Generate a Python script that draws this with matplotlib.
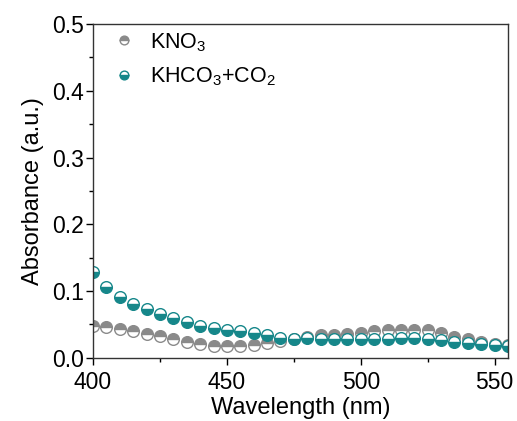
import matplotlib
matplotlib.use("Agg")
import matplotlib.pyplot as plt
from matplotlib.ticker import MultipleLocator, FormatStrFormatter
import numpy as np

plt.rcParams['font.family'] = ['Liberation Sans', 'DejaVu Sans']
plt.rcParams['mathtext.fontset'] = 'custom'
plt.rcParams['mathtext.rm'] = 'Liberation Sans'
plt.rcParams['mathtext.it'] = 'Liberation Sans'

wavelength = list(range(400, 556, 5))
kno3 = [0.048, 0.0455, 0.0435, 0.0405, 0.036, 0.033, 0.028, 0.024, 0.020, 0.017,
        0.0175, 0.0175, 0.019, 0.0215, 0.025, 0.028, 0.031, 0.034, 0.0345, 0.036,
        0.037, 0.040, 0.042, 0.042, 0.0415, 0.0415, 0.0365, 0.0315, 0.0275, 0.024,
        0.021, 0.019]
khco3 = [0.128, 0.106, 0.0915, 0.081, 0.073, 0.066, 0.060, 0.053, 0.047, 0.0445,
         0.042, 0.0405, 0.0375, 0.034, 0.029, 0.0275, 0.0295, 0.0285, 0.0285, 0.0285,
         0.0285, 0.0285, 0.0285, 0.029, 0.029, 0.0275, 0.0265, 0.024, 0.0225, 0.0205,
         0.019, 0.0175]
labels = ['KNO$_3$', 'KHCO$_3$+CO$_2$']

gray = '#8a8a8a'
teal = '#16878a'

fig = plt.figure(figsize=(5.17, 4.21), dpi=100)
ax = fig.add_axes([0.180, 0.150, 0.8026, 0.793])

ax.plot(wavelength, kno3, linestyle='none', marker='o', markersize=8.4,
        fillstyle='top', markerfacecolor=gray, markerfacecoloralt='white',
        markeredgecolor=gray, markeredgewidth=1.0, label=labels[0])
ax.plot(wavelength, khco3, linestyle='none', marker='o', markersize=8.4,
        fillstyle='bottom', markerfacecolor=teal, markerfacecoloralt='white',
        markeredgecolor=teal, markeredgewidth=1.0, label=labels[1])

ax.set_xlim(400, 555)
ax.set_ylim(0, 0.5)
ax.xaxis.set_major_locator(MultipleLocator(50))
ax.xaxis.set_minor_locator(MultipleLocator(25))
ax.yaxis.set_major_locator(MultipleLocator(0.1))
ax.yaxis.set_minor_locator(MultipleLocator(0.05))
ax.yaxis.set_major_formatter(FormatStrFormatter('%.1f'))

ax.tick_params(which='major', direction='out', length=5, width=1, labelsize=16.5, pad=1.5)
ax.tick_params(axis='x', which='major', pad=4.5)
ax.tick_params(which='minor', direction='out', length=3, width=1)
ax.tick_params(top=False, right=False, which='both')
for s in ax.spines.values():
    s.set_linewidth(1.0)
    s.set_color('#333333')

ax.set_xlabel('Wavelength (nm)', fontsize=17, labelpad=2)
ax.set_ylabel('Absorbance (a.u.)', fontsize=17, labelpad=6)

leg = ax.legend(loc='upper left', frameon=False, fontsize=15.5, markerscale=0.75,
                handlelength=1.2, handletextpad=0.6, borderaxespad=0.0,
                labelspacing=0.55, bbox_to_anchor=(0.022, 1.005))

fig.savefig('out.png', dpi=100)
